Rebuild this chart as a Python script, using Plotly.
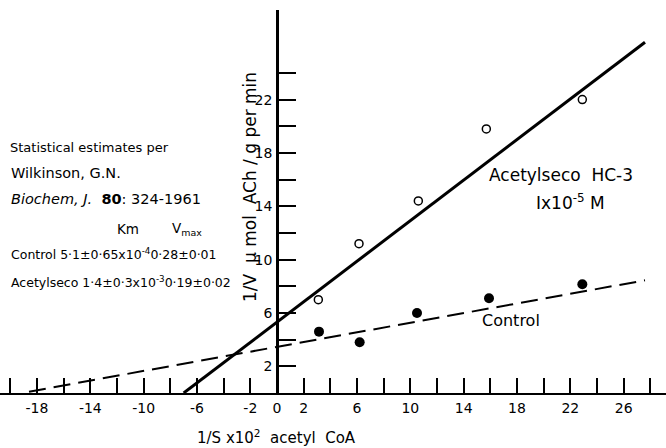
import plotly.graph_objects as go

# ---- data ----
acetyl_x = [3.1, 6.15, 10.6, 15.7, 22.9]
acetyl_y = [7.0, 11.2, 14.4, 19.8, 22.0]
control_x = [3.15, 6.2, 10.5, 15.9, 22.9]
control_y = [4.6, 3.8, 6.0, 7.1, 8.15]

acetyl_fit_x = [-7.0, 27.6]
acetyl_fit_y = [0.0, 26.3]
control_fit_x = [-18.6, 27.6]
control_fit_y = [0.1, 8.45]

x_labeled = [-18, -14, -10, -6, -2, 0, 2, 6, 10, 14, 18, 22, 26]
x_minor = [-20, -16, -12, -8, -4, 4, 8, 12, 16, 20, 24, 28]
y_labeled = [2, 6, 10, 14, 18, 22]
y_minor = [4, 8, 12, 16, 20, 24]

W, H = 666, 448
M_T, M_B = 10, 55
X_RANGE = [-20.775, 29.175]
Y_RANGE = [0, 28.72]
FONT = "DejaVu Sans"

plot_h = H - M_T - M_B


def P(px, py):
    return px / W, (H - M_B - py) / plot_h


fig = go.Figure()
fig.add_trace(go.Scatter(x=acetyl_fit_x, y=acetyl_fit_y, mode="lines",
                         line=dict(color="black", width=3), hoverinfo="skip"))
fig.add_trace(go.Scatter(x=control_fit_x, y=control_fit_y, mode="lines",
                         line=dict(color="black", width=2, dash="17px,8px"), hoverinfo="skip"))
fig.add_trace(go.Scatter(x=acetyl_x, y=acetyl_y, mode="markers",
                         marker=dict(symbol="circle-open", size=8, color="black",
                                     line=dict(width=1.5, color="black"))))
fig.add_trace(go.Scatter(x=control_x, y=control_y, mode="markers",
                         marker=dict(symbol="circle", size=10, color="black")))

ypos = (0 - X_RANGE[0]) / (X_RANGE[1] - X_RANGE[0])

fig.update_layout(
    width=W, height=H, showlegend=False,
    margin=dict(l=0, r=0, t=M_T, b=M_B),
    paper_bgcolor="white", plot_bgcolor="white",
    font=dict(family=FONT, color="black", size=14),
    xaxis=dict(range=X_RANGE, showgrid=False, zeroline=False,
               showline=True, linecolor="black", linewidth=2,
               ticks="inside", ticklen=15, tickwidth=1.8, tickcolor="black",
               tickmode="array", tickvals=x_labeled,
               ticktext=[str(v) for v in x_labeled],
               minor=dict(tickmode="array", tickvals=x_minor, ticks="inside",
                          ticklen=15, tickwidth=1.8, tickcolor="black", showgrid=False),
               tickfont=dict(family=FONT, size=14, color="black"),
               ticklabelstandoff=1,
               automargin=False, fixedrange=True),
    yaxis=dict(range=Y_RANGE, showgrid=False, zeroline=False,
               anchor="free", position=ypos,
               showline=True, linecolor="black", linewidth=2.5,
               ticks="inside", ticklen=17, tickwidth=1.8, tickcolor="black",
               tickmode="array", tickvals=y_labeled,
               ticktext=[str(v) for v in y_labeled],
               minor=dict(tickmode="array", tickvals=y_minor, ticks="inside",
                          ticklen=17, tickwidth=1.8, tickcolor="black", showgrid=False),
               tickfont=dict(family=FONT, size=14, color="black"),
               ticklabelstandoff=1,
               automargin=False, fixedrange=True),
)

ann = []


def text(px, py, s, size, xanchor="left", angle=0):
    x, y = P(px, py)
    ann.append(dict(x=x, y=y, xref="paper", yref="paper", text=s, showarrow=False,
                    xanchor=xanchor, yanchor="middle", textangle=angle,
                    font=dict(family=FONT, size=size, color="black")))


text(8, 147, "Statistical estimates per", 13)
text(9, 173, "Wilkinson, G.N.", 14.5)
text(9, 199, "<i>Biochem, J.</i>  <b>80</b>: 324-1961", 14.5)
text(128, 229, "Km", 13.5, "center")
text(187, 229, "V<sub>max</sub>", 13.5, "center")
text(9, 254, "Control 5·1±0·65x10<sup>-4</sup>0·28±0·01", 12.5)
text(9, 282, "Acetylseco 1·4±0·3x10<sup>-3</sup>0·19±0·02", 12.5)

text(561, 175, "Acetylseco  HC-3", 17, "center")
text(570, 202, "Ix10<sup>-5</sup> M", 17, "center")
text(511, 320, "Control", 16, "center")

text(250, 187, "1/V  μ mol  ACh / g per min", 17, "center", -90)
text(276, 437, "1/S x10<sup>2</sup>  acetyl  CoA", 15, "center")

fig.update_layout(annotations=ann)
fig.write_html("out.html")
